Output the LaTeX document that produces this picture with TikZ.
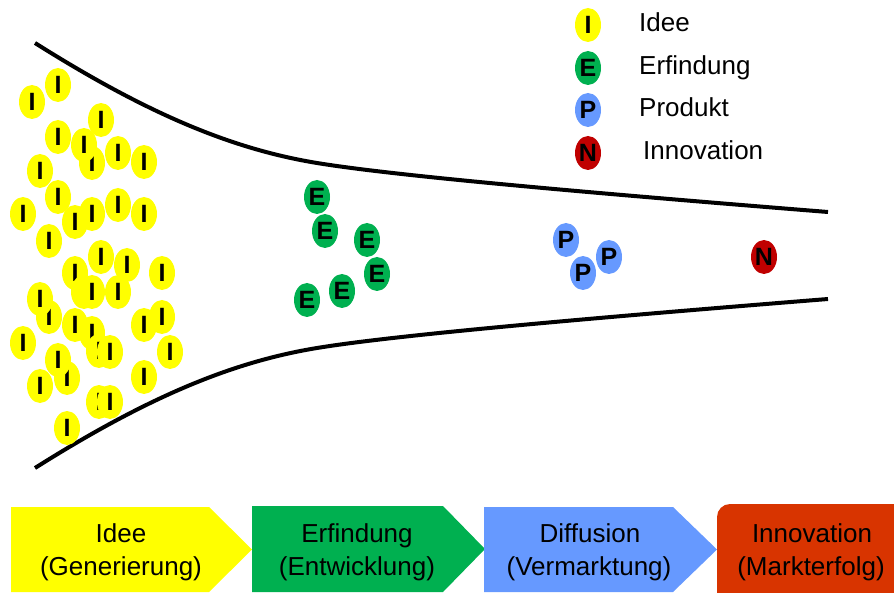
\documentclass[tikz,border=0pt]{standalone}
\usepackage{fontspec}
\setmainfont{Liberation Sans}
\usetikzlibrary{shapes.geometric}

\definecolor{ideeyellow}{RGB}{255,255,0}
\definecolor{erfgreen}{RGB}{0,176,80}
\definecolor{prodblue}{RGB}{102,153,255}
\definecolor{innodark}{RGB}{192,0,0}
\definecolor{innobox}{RGB}{216,52,0}

\tikzset{
  token/.style={ellipse, minimum width=26pt, minimum height=34pt, inner sep=0pt,
    font=\fontsize{25}{25}\selectfont\bfseries},
  ideetok/.style={token, fill=ideeyellow},
  erftok/.style={token, fill=erfgreen},
  prodtok/.style={token, fill=prodblue},
  innotok/.style={token, fill=innodark},
  funnel/.style={line width=4pt, black},
  legendtext/.style={anchor=base west, inner sep=0pt, font=\fontsize{26}{26}\selectfont},
  stagetext/.style={anchor=base, inner sep=0pt, font=\fontsize{26}{26}\selectfont}
}

\begin{document}
\begin{tikzpicture}[x=1pt, y=-1pt]
\useasboundingbox (0,0) rectangle (894,593);
\clip (0,0) rectangle (894,593);

% funnel walls
\draw[funnel] (35,43) .. controls (145.8,112.8) and (230.4,148.8) .. (317,163)
                      .. controls (384.8,174.1) and (538.1,188.8) .. (828,212);
\draw[funnel] (35,468) .. controls (145.8,398.2) and (230.4,362.2) .. (317,348)
                       .. controls (384.8,336.9) and (538.1,322.2) .. (828,299);

% ideas at the wide end
\foreach \px/\py [count=\k] in {58/85, 32/102, 101/120, 58/137, 92/163, 84/145, 118/153,
    144/162, 40/171, 58/197, 23/214, 75/222, 92/214, 118/205, 144/214, 49/241, 101/257,
    127/265, 75/273, 162/273, 84/292, 92/292, 118/292, 49/317, 40/299, 75/325, 92/333,
    162/317, 144/325, 170/352, 23/343, 99/351, 110/352, 67/378, 58/360, 40/386, 144/377,
    99/402, 110/402, 67/428}
  \node[ideetok] (idea\k) at (\px,\py) {I};

% inventions
\foreach \px/\py [count=\k] in {317/197, 325/231, 367/240, 377/274, 342/291, 307/300}
  \node[erftok] (inv\k) at (\px,\py) {E};

% products
\foreach \px/\py [count=\k] in {566/240, 609/257, 583/273}
  \node[prodtok] (prod\k) at (\px,\py) {P};

% the innovation
\node[innotok] (inno) at (764,257) {N};

% legend
\node[ideetok] (legI) at (588,25) {I};
\node[erftok]  (legE) at (588,68) {E};
\node[prodtok] (legP) at (588,110) {P};
\node[innotok] (legN) at (588,153) {N};
\node[legendtext] (legIt) at (639,32) {Idee};
\node[legendtext] (legEt) at (639,75) {Erfindung};
\node[legendtext] (legPt) at (639,117) {Produkt};
\node[legendtext] (legNt) at (643,160) {Innovation};

% process stages
\fill[ideeyellow] (11,507) -- (209,507) -- (252,549.5) -- (209,592) -- (11,592) -- cycle;
\fill[erfgreen] (252,506) -- (443,506) -- (485,549) -- (443,592) -- (252,592) -- cycle;
\fill[prodblue] (484,507) -- (673,507) -- (717,549.5) -- (673,592) -- (484,592) -- cycle;
\fill[innobox, rounded corners=13pt] (717,504) rectangle (910,606);

\node[stagetext] (st1a) at (121,542) {Idee};
\node[stagetext] (st1b) at (121,575) {(Generierung)};
\node[stagetext] (st2a) at (357,542) {Erfindung};
\node[stagetext] (st2b) at (357,575) {(Entwicklung)};
\node[stagetext] (st3a) at (590,542) {Diffusion};
\node[stagetext] (st3b) at (589,575) {(Vermarktung)};
\node[stagetext] (st4a) at (812,542) {Innovation};
\node[stagetext] (st4b) at (811,575) {(Markterfolg)};
\end{tikzpicture}
\end{document}
